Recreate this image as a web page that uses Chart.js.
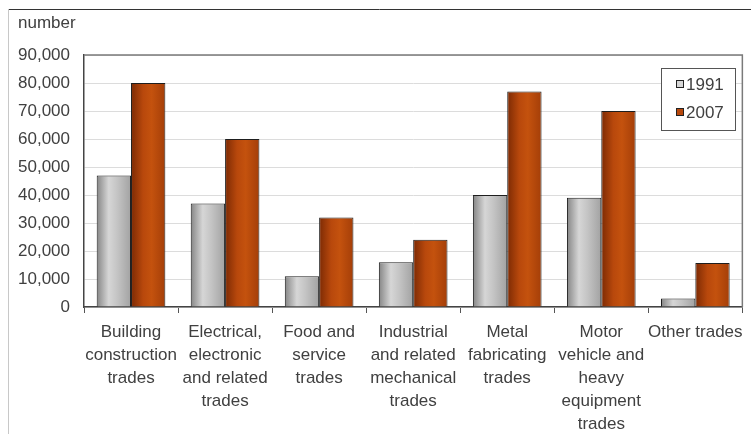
<!DOCTYPE html>
<html>
<head>
<meta charset="utf-8">
<script src="https://cdn.jsdelivr.net/npm/chart.js@4/dist/chart.umd.min.js"></script>
<style>
  html, body { margin: 0; padding: 0; background: #fff; }
  canvas { display: block; }
</style>
</head>
<body>
<canvas id="tradesChart" width="751" height="434"></canvas>
<script>
const categories = [
  ["Building", "construction", "trades"],
  ["Electrical,", "electronic", "and related", "trades"],
  ["Food and", "service", "trades"],
  ["Industrial", "and related", "mechanical", "trades"],
  ["Metal", "fabricating", "trades"],
  ["Motor", "vehicle and", "heavy", "equipment", "trades"],
  ["Other trades"]
];
const values1991 = [47000, 37000, 11000, 16000, 40000, 39000, 3000];
const values2007 = [80000, 60000, 32000, 24000, 77000, 70000, 15700];
const seriesLabels = ["1991", "2007"];
const yTicks = [0, 10000, 20000, 30000, 40000, 50000, 60000, 70000, 80000, 90000];

const fontFamily = "'Liberation Sans', Arial, sans-serif";
const textColor = "#404040";

// gradient stops for each series, left to right across a bar
const gradStops = [
  ["#858585", "#d6d6d6", "#c4c4c4", "#a2a2a2"],
  ["#7c2a04", "#b8480c", "#c4520e", "#a43e08"]
];

const gradientBars = {
  id: "gradientBars",
  beforeDatasetsDraw(chart) {
    const ctx = chart.ctx;
    chart.data.datasets.forEach((ds, i) => {
      const meta = chart.getDatasetMeta(i);
      meta.data.forEach((bar) => {
        const x0 = bar.x - bar.width / 2;
        const x1 = bar.x + bar.width / 2;
        const g = ctx.createLinearGradient(x0, 0, x1, 0);
        const stops = gradStops[i];
        g.addColorStop(0, stops[0]);
        g.addColorStop(0.35, stops[1]);
        g.addColorStop(0.6, stops[2]);
        g.addColorStop(1, stops[3]);
        bar.options = Object.assign({}, bar.options, { backgroundColor: g });
      });
    });
  }
};

const frameAndLegend = {
  id: "frameAndLegend",
  afterDraw(chart) {
    const ctx = chart.ctx;
    const a = chart.chartArea;
    ctx.save();
    // outer frame
    ctx.strokeStyle = "#333";
    ctx.lineWidth = 1;
    ctx.beginPath();
    ctx.moveTo(8, 9.5);
    ctx.lineTo(751, 9.5);
    ctx.stroke();
    ctx.strokeStyle = "#c8c8c8";
    ctx.beginPath();
    ctx.moveTo(8.5, 9);
    ctx.lineTo(8.5, 434);
    ctx.stroke();

    // plot area top and right border
    ctx.strokeStyle = "#7a7a7a";
    ctx.lineWidth = 1.5;
    ctx.beginPath();
    ctx.moveTo(a.left, a.top);
    ctx.lineTo(a.right, a.top);
    ctx.lineTo(a.right, a.bottom);
    ctx.stroke();

    // unit label
    ctx.fillStyle = textColor;
    ctx.font = "17px " + fontFamily;
    ctx.textBaseline = "middle";
    ctx.textAlign = "left";
    ctx.fillText("number", 18, 23);

    // legend
    ctx.strokeStyle = "#555";
    ctx.lineWidth = 1;
    ctx.fillStyle = "#fff";
    ctx.fillRect(661, 68, 74, 62);
    ctx.strokeRect(661.5, 68.5, 74, 62);
    seriesLabels.forEach((lab, i) => {
      const cy = 84 + i * 28;
      ctx.fillStyle = gradStops[i][1];
      ctx.fillRect(676, cy - 4, 8, 8);
      ctx.strokeStyle = "#222";
      ctx.strokeRect(676.5, cy - 3.5, 7, 7);
      ctx.fillStyle = textColor;
      ctx.font = "17px " + fontFamily;
      ctx.fillText(lab, 686, cy + 1);
    });
    ctx.restore();
  }
};

new Chart(document.getElementById("tradesChart"), {
  type: "bar",
  data: {
    labels: categories,
    datasets: [
      {
        label: seriesLabels[0],
        data: values1991,
        backgroundColor: gradStops[0][1],
        borderColor: "#1e1e1e",
        borderWidth: 1,
        barPercentage: 1,
        categoryPercentage: 0.73
      },
      {
        label: seriesLabels[1],
        data: values2007,
        backgroundColor: gradStops[1][1],
        borderColor: "#1e1e1e",
        borderWidth: 1,
        barPercentage: 1,
        categoryPercentage: 0.73
      }
    ]
  },
  options: {
    responsive: false,
    animation: false,
    devicePixelRatio: 1,
    layout: { padding: { top: 55, right: 6, left: 0, bottom: 0 } },
    plugins: {
      legend: { display: false },
      tooltip: { enabled: false }
    },
    scales: {
      x: {
        offset: true,
        grid: {
          offset: true,
          drawOnChartArea: false,
          drawTicks: true,
          tickLength: 6,
          color: "#555"
        },
        border: { color: "#444", width: 1.5 },
        ticks: {
          color: textColor,
          font: { family: fontFamily, size: 17, lineHeight: 1.35 },
          padding: 8,
          maxRotation: 0,
          autoSkip: false
        },
        afterFit(scale) { scale.height = 127; }
      },
      y: {
        min: 0,
        max: 90000,
        afterBuildTicks(scale) {
          scale.ticks = yTicks.map((v) => ({ value: v }));
        },
        grid: { color: "#dcdcdc", drawTicks: false },
        border: { color: "#444", width: 1.5 },
        ticks: {
          color: textColor,
          font: { family: fontFamily, size: 17 },
          padding: 14,
          callback: (v) => v.toLocaleString("en-US")
        },
        afterFit(scale) { scale.width = 84; }
      }
    }
  },
  plugins: [gradientBars, frameAndLegend]
});
</script>
</body>
</html>
